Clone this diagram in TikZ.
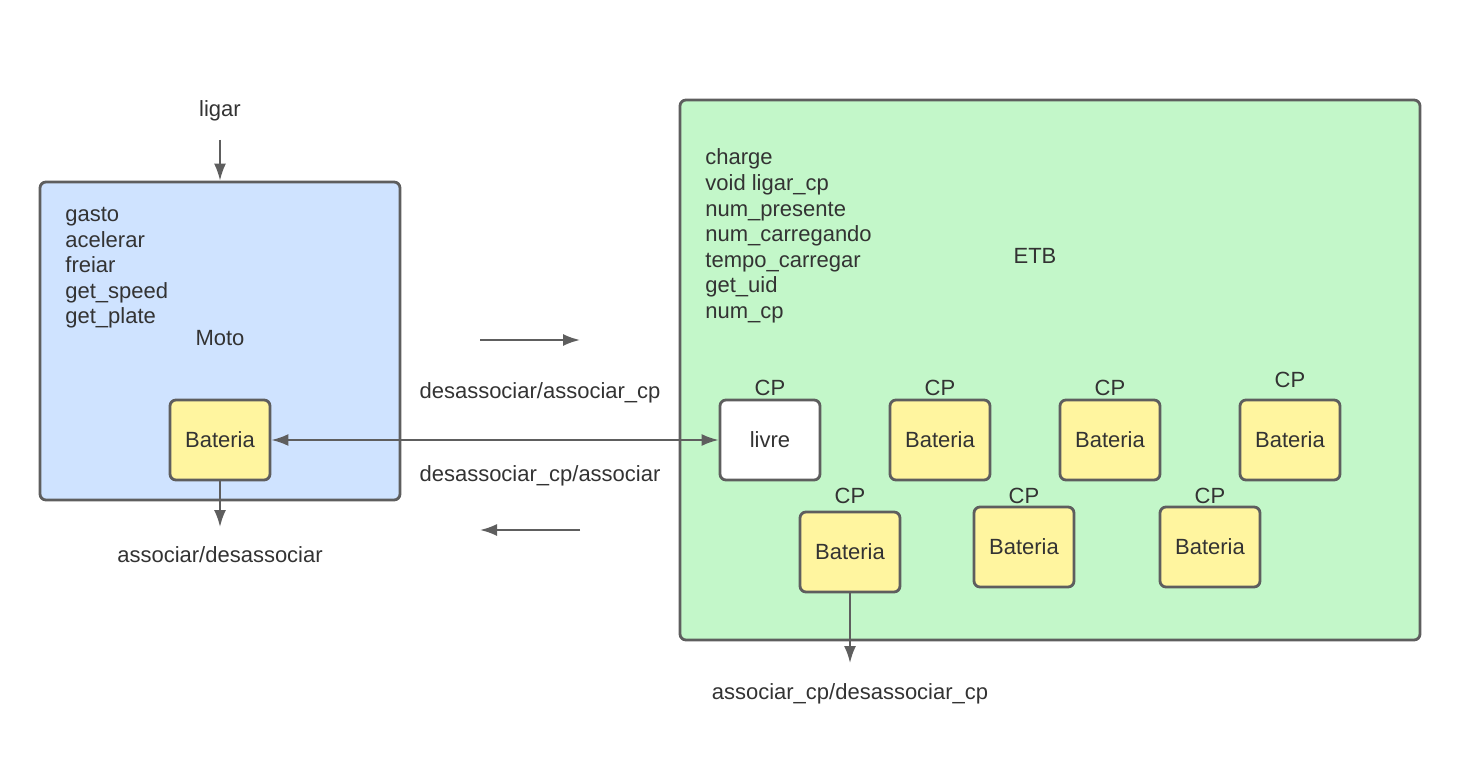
\documentclass[tikz,border=0pt]{standalone}
\usepackage{fontspec}
\setmainfont{Liberation Sans}
\usetikzlibrary{positioning,arrows.meta}
\definecolor{edge}{HTML}{5E5E5E}
\definecolor{motofill}{HTML}{CFE3FF}
\definecolor{etbfill}{HTML}{C3F7C9}
\definecolor{batfill}{HTML}{FFF59F}
\definecolor{ink}{HTML}{333333}

\begin{document}
\begin{tikzpicture}[
x=0.5pt, y=-0.5pt,
block/.style={
  draw=edge,
  line width=1.4pt,
  rounded corners=3pt,
  inner sep=0pt
  },
cell/.style={
  block,
  minimum width=50pt,
  minimum height=40pt,
  fill=batfill,
  text=ink,
  font=\fontsize{11}{13}\selectfont
  },
lbl/.style={
  text=ink,
  font=\fontsize{11}{13}\selectfont,
  inner sep=0pt
  },
link/.style={
  draw=edge,
  line width=1pt
  },
>={Latex[length=8.5pt,width=6pt]}
]
\useasboundingbox (0,0) rectangle (1460,764);
% the two big boxes
\node[block, fill=motofill, minimum width=180pt, minimum height=159pt] (moto) at (220,341) {};
\node[block, fill=etbfill, minimum width=370pt, minimum height=270pt] (etb) at (1050,370) {};
\foreach \t [count=\i] in {gasto,acelerar,freiar,get\_speed,get\_plate}
  \node[lbl, anchor=base west] (moto-\i) at (65,{222+25.5*(\i-1)}) {\t};
\foreach \t [count=\i] in {charge,void ligar\_cp,num\_presente,num\_carregando,tempo\_carregar,get\_uid,num\_cp}
  \node[lbl, anchor=base west] (etb-\i) at (705,{165+25.6*(\i-1)}) {\t};
\node[lbl, anchor=base] (moto-name) at (220,345) {Moto};
\node[lbl, anchor=base] (etb-name) at (1035,264) {ETB};
% batteries and charge points
\node[cell] (batm) at (220,440) {Bateria};
\node[cell, fill=white] (livre) at (770,440) {livre};
\foreach \x [count=\i] in {940,1110,1290}
  \node[cell] (top-\i) at (\x,440) {Bateria};
\node[cell] (bot-1) at (850,552) {Bateria};
\node[cell] (bot-2) at (1024,547) {Bateria};
\node[cell] (bot-3) at (1210,547) {Bateria};
\node[lbl, above=1pt of livre] (cp-0) {CP};
\node[lbl, above=1pt of top-1] (cp-1) {CP};
\node[lbl, above=1pt of top-2] (cp-2) {CP};
\node[lbl, above=5pt of top-3] (cp-3) {CP};
\node[lbl, above=3pt of bot-1] (cp-4) {CP};
\node[lbl, above=0.5pt of bot-2] (cp-5) {CP};
\node[lbl, above=0.5pt of bot-3] (cp-6) {CP};
% labels
\node[lbl, anchor=base] (ligar) at (220,117) {ligar};
\node[lbl, anchor=base] (ass-moto) at (220,562) {associar/desassociar};
\node[lbl, anchor=base] (fwd-lbl) at (540,398) {desassociar/associar\_cp};
\node[lbl, anchor=base] (back-lbl) at (540,481) {desassociar\_cp/associar};
\node[lbl, anchor=base] (ass-cp) at (850,699) {associar\_cp/desassociar\_cp};
% arrows
\coordinate (ligar-in) at (220,140);
\coordinate (moto-out) at (220,527);
\coordinate (cp-out) at (850,663);
\coordinate (fwd-a) at (480,340);
\coordinate (fwd-b) at (580,340);
\coordinate (back-a) at (580,530);
\coordinate (back-b) at (480,530);
\draw[link,->] (ligar-in) -- (moto.north);
\draw[link,->] (batm.south) -- (moto-out);
\draw[link,<->] (batm.east) -- (livre.west);
\draw[link,->] (fwd-a) -- (fwd-b);
\draw[link,->] (back-a) -- (back-b);
\draw[link,->] (bot-1.south) -- (cp-out);
\end{tikzpicture}
\end{document}
